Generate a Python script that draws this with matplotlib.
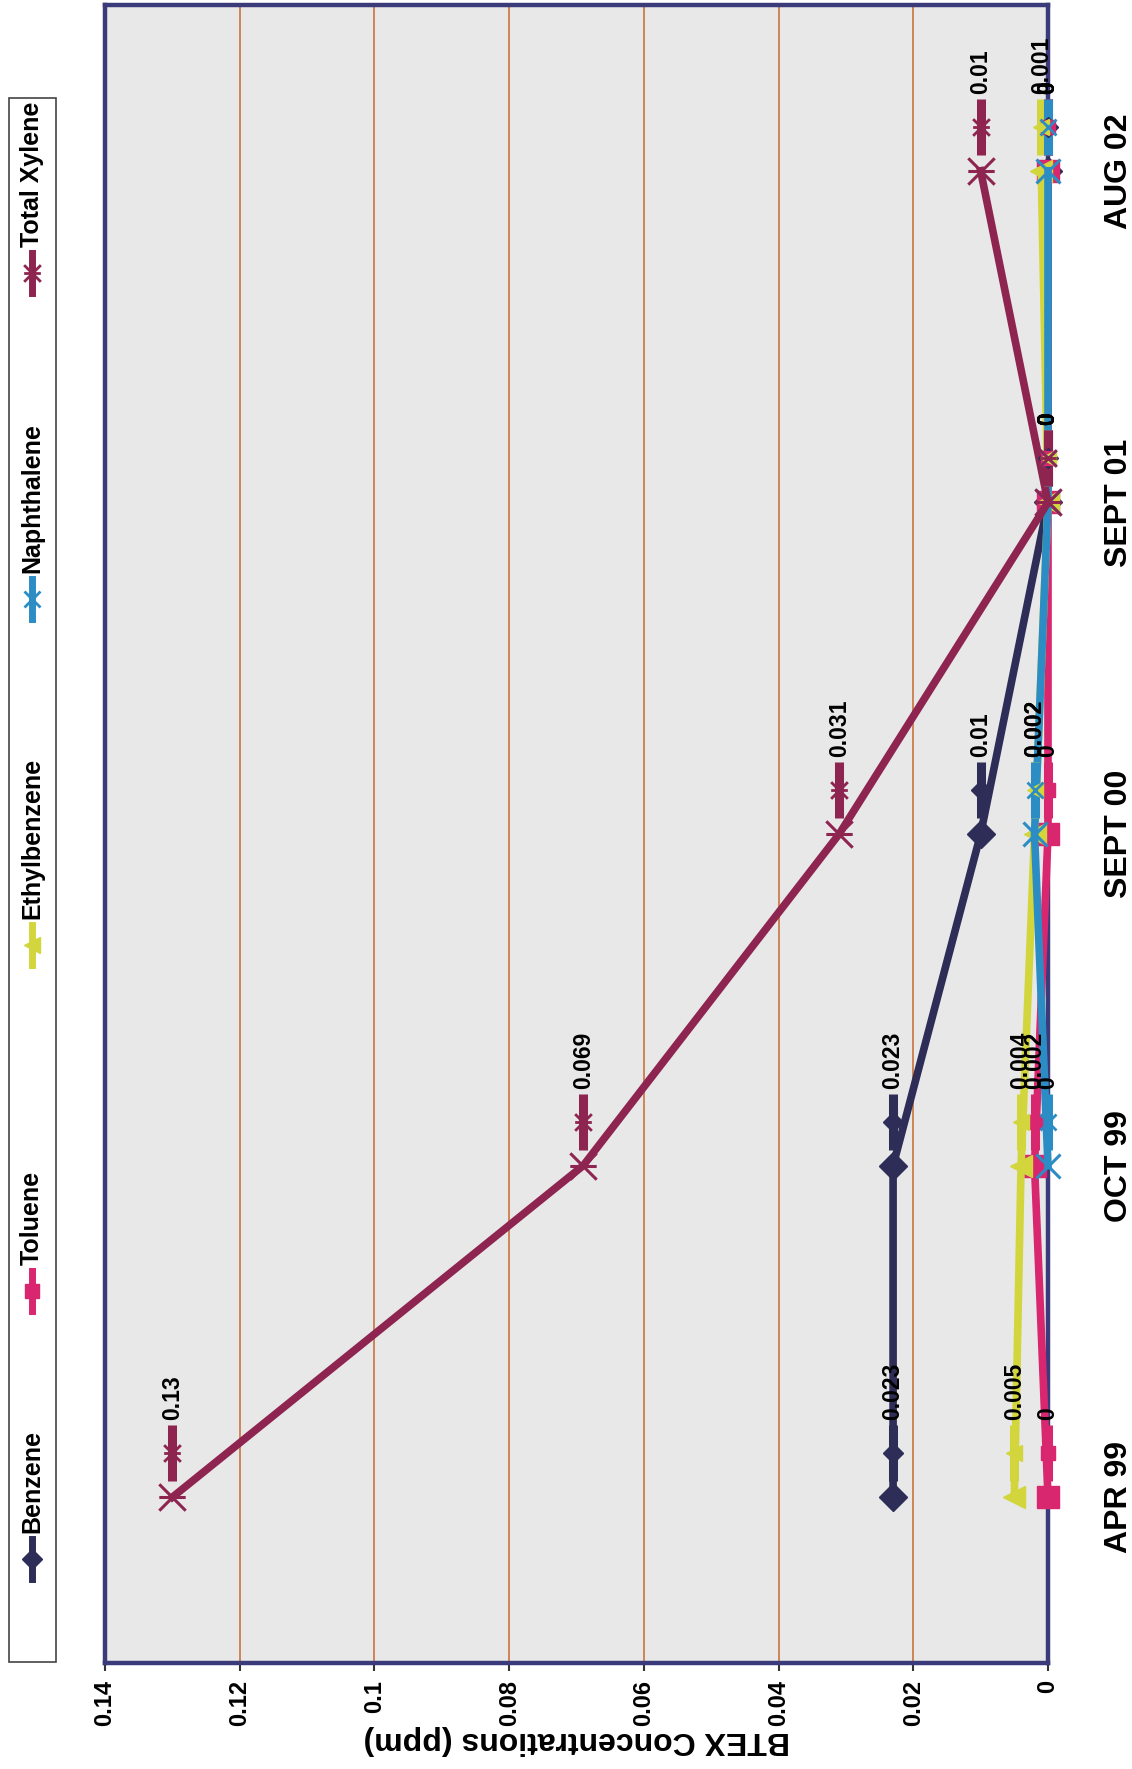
import numpy as np
import matplotlib
matplotlib.use('Agg')
import matplotlib.pyplot as plt
from matplotlib.path import Path
from matplotlib.lines import Line2D
from matplotlib.patches import Rectangle
from matplotlib.transforms import offset_copy

plt.rcParams['font.family'] = ['Liberation Sans', 'DejaVu Sans']

W, H = 1132, 1769

# chart data (page is scanned sideways, so the chart is drawn rotated)
dates = ['APR 99', 'OCT 99', 'SEPT 00', 'SEPT 01', 'AUG 02']
benzene = [0.023, 0.023, 0.01, 0, 0]
toluene = [0, 0.002, 0, 0, 0]
ethylbenzene = [0.005, 0.004, 0.002, 0, 0.001]
naphthalene = [np.nan, 0, 0.002, 0, 0]
total_xylene = [0.13, 0.069, 0.031, 0, 0.01]
value_ticks = [0, 0.02, 0.04, 0.06, 0.08, 0.1, 0.12, 0.14]

names = ['Benzene', 'Toluene', 'Ethylbenzene', 'Naphthalene', 'Total Xylene']
series = [benzene, toluene, ethylbenzene, naphthalene, total_xylene]
colors = ['#2e2d58', '#d8266f', '#d2d63c', '#2c8dc4', '#8e2450']

# excel "star" marker: an X with a bar (bar is horizontal after rotation)
star = Path([(-1, -1), (1, 1), (-1, 1), (1, -1), (-1, 0), (1, 0)],
            [Path.MOVETO, Path.LINETO] * 3)
markers = ['D', 's', '<', 'x', star]
msize = [14, 16, 16, 17, 19]
msize_key = [10, 10, 11, 11, 12]


def fxy(x, y):
    return x / W, 1 - y / H


def is_open(m):
    return m is star or m == 'x'


fig = plt.figure(figsize=(W / 100, H / 100), dpi=100)
ax = fig.add_axes([105 / W, 1 - 1663 / H, (1048 - 105) / W, (1663 - 5) / H])
ax.set_facecolor('#e8e8e8')

pos = np.arange(len(dates))
for i, vals in enumerate(series):
    v = np.array(vals, float)
    m = markers[i]
    ax.plot(v, pos, color=colors[i], lw=5.5, marker=m, ms=msize[i],
            mfc='none' if is_open(m) else colors[i], mec=colors[i],
            mew=2.2 if is_open(m) else 1, clip_on=False, zorder=3 + i)

# data labels with legend key
kt = offset_copy(ax.transData, fig=fig, x=0, y=44, units='dots')
for i, vals in enumerate(series):
    v = np.array(vals, float)
    ok = ~np.isnan(v)
    m = markers[i]
    ax.plot(v[ok], pos[ok], ls='none', marker='|', ms=40, mew=6.5,
            color=colors[i], transform=kt, clip_on=False, zorder=10)
    ax.plot(v[ok], pos[ok], ls='none', marker=m, ms=msize_key[i],
            mfc='none' if is_open(m) else colors[i], mec=colors[i],
            mew=2 if is_open(m) else 1, transform=kt, clip_on=False, zorder=11)
    for val, p in zip(v[ok], pos[ok]):
        ax.annotate(f'{val:g}', (val, p), xytext=(0, 77), textcoords='offset pixels',
                    rotation=90, ha='center', va='bottom', fontsize=16.5,
                    fontweight='bold', zorder=12, annotation_clip=False)

ax.set_xlim(0.14, 0)
ax.set_ylim(-0.5, 4.5)
ax.set_xticks(value_ticks)
ax.set_xticklabels([f'{t:g}' for t in value_ticks], rotation=90,
                   fontsize=17, fontweight='bold')
ax.tick_params(axis='x', length=6, width=1.5, pad=6, color='#333333')
ax.grid(axis='x', color='#c8743e', lw=1.2)
ax.set_axisbelow(True)

ax.yaxis.tick_right()
ax.set_yticks(pos)
ax.set_yticklabels(dates, rotation=90, fontsize=23, fontweight='bold', va='center')
ax.tick_params(axis='y', length=0, pad=40)

for s in ax.spines.values():
    s.set_color('#3b3a7a')
    s.set_linewidth(3.2)
    s.set_zorder(2.5)

fig.text(*fxy(577, 1740), 'BTEX Concentrations (ppm)', rotation=180,
         ha='center', va='center', fontsize=23, fontweight='bold')

# legend, stacked along the left edge
fig.add_artist(Rectangle(fxy(9, 1662), 47 / W, (1662 - 98) / H,
                         transform=fig.transFigure, fill=False,
                         ec='#444444', lw=1.2))
key_y = [1559, 1291, 945, 599, 273]
for i, name in enumerate(names):
    c = key_y[i]
    m = markers[i]
    x0, y0 = fxy(32, c + 20)
    x1, y1 = fxy(32, c - 20)
    fig.add_artist(Line2D([x0, x1], [y0, y1], transform=fig.transFigure,
                          color=colors[i], lw=5))
    mx, my = fxy(32, c)
    fig.add_artist(Line2D([mx], [my], transform=fig.transFigure, ls='none',
                          marker=m, ms=msize_key[i],
                          mfc='none' if is_open(m) else colors[i], mec=colors[i],
                          mew=2 if is_open(m) else 1, color=colors[i]))
    fig.text(*fxy(32, c - 26), name, rotation=90, ha='center', va='bottom',
             fontsize=18, fontweight='bold')

fig.savefig('out.png', dpi=100)
